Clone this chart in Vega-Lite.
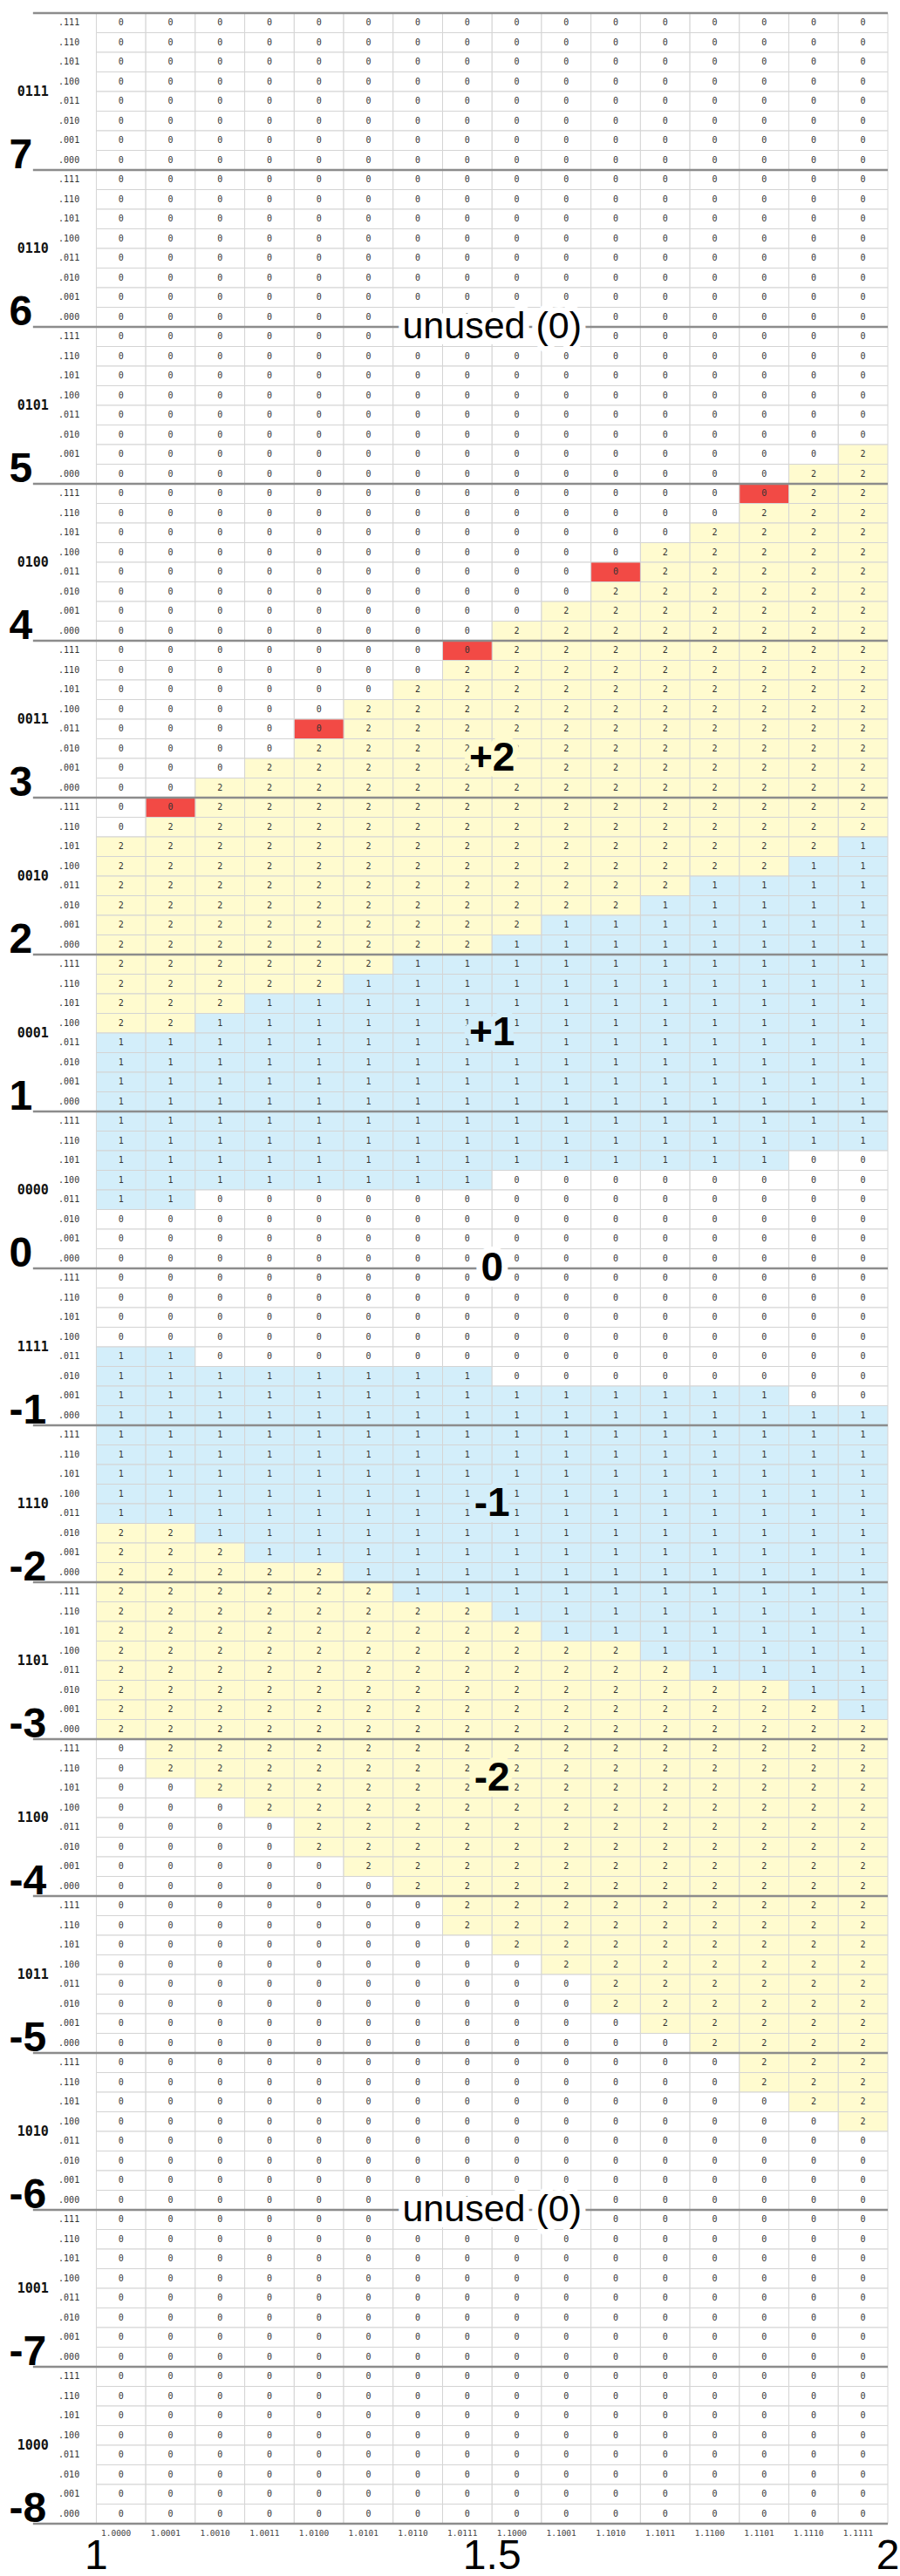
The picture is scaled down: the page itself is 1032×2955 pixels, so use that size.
{
"$schema": "https://vega.github.io/schema/vega-lite/v6.json",
"width": 1021,
"height": 2880,
"autosize": {"type": "none"},
"padding": {"left": -3, "top": 15, "right": 14, "bottom": 60},
"background": "white",
"config": {"view": {"stroke": null}},
"datasets": {
"cells": [
{"x":0,"y":0,"v":0},{"x":1,"y":0,"v":0},{"x":2,"y":0,"v":0},{"x":3,"y":0,"v":0},{"x":4,"y":0,"v":0},{"x":5,"y":0,"v":0},{"x":6,"y":0,"v":0},{"x":7,"y":0,"v":0},{"x":8,"y":0,"v":0},{"x":9,"y":0,"v":0},{"x":10,"y":0,"v":0},{"x":11,"y":0,"v":0},{"x":12,"y":0,"v":0},{"x":13,"y":0,"v":0},{"x":14,"y":0,"v":0},{"x":15,"y":0,"v":0},
{"x":0,"y":1,"v":0},{"x":1,"y":1,"v":0},{"x":2,"y":1,"v":0},{"x":3,"y":1,"v":0},{"x":4,"y":1,"v":0},{"x":5,"y":1,"v":0},{"x":6,"y":1,"v":0},{"x":7,"y":1,"v":0},{"x":8,"y":1,"v":0},{"x":9,"y":1,"v":0},{"x":10,"y":1,"v":0},{"x":11,"y":1,"v":0},{"x":12,"y":1,"v":0},{"x":13,"y":1,"v":0},{"x":14,"y":1,"v":0},{"x":15,"y":1,"v":0},
{"x":0,"y":2,"v":0},{"x":1,"y":2,"v":0},{"x":2,"y":2,"v":0},{"x":3,"y":2,"v":0},{"x":4,"y":2,"v":0},{"x":5,"y":2,"v":0},{"x":6,"y":2,"v":0},{"x":7,"y":2,"v":0},{"x":8,"y":2,"v":0},{"x":9,"y":2,"v":0},{"x":10,"y":2,"v":0},{"x":11,"y":2,"v":0},{"x":12,"y":2,"v":0},{"x":13,"y":2,"v":0},{"x":14,"y":2,"v":0},{"x":15,"y":2,"v":0},
{"x":0,"y":3,"v":0},{"x":1,"y":3,"v":0},{"x":2,"y":3,"v":0},{"x":3,"y":3,"v":0},{"x":4,"y":3,"v":0},{"x":5,"y":3,"v":0},{"x":6,"y":3,"v":0},{"x":7,"y":3,"v":0},{"x":8,"y":3,"v":0},{"x":9,"y":3,"v":0},{"x":10,"y":3,"v":0},{"x":11,"y":3,"v":0},{"x":12,"y":3,"v":0},{"x":13,"y":3,"v":0},{"x":14,"y":3,"v":0},{"x":15,"y":3,"v":0},
{"x":0,"y":4,"v":0},{"x":1,"y":4,"v":0},{"x":2,"y":4,"v":0},{"x":3,"y":4,"v":0},{"x":4,"y":4,"v":0},{"x":5,"y":4,"v":0},{"x":6,"y":4,"v":0},{"x":7,"y":4,"v":0},{"x":8,"y":4,"v":0},{"x":9,"y":4,"v":0},{"x":10,"y":4,"v":0},{"x":11,"y":4,"v":0},{"x":12,"y":4,"v":0},{"x":13,"y":4,"v":0},{"x":14,"y":4,"v":0},{"x":15,"y":4,"v":0},
{"x":0,"y":5,"v":0},{"x":1,"y":5,"v":0},{"x":2,"y":5,"v":0},{"x":3,"y":5,"v":0},{"x":4,"y":5,"v":0},{"x":5,"y":5,"v":0},{"x":6,"y":5,"v":0},{"x":7,"y":5,"v":0},{"x":8,"y":5,"v":0},{"x":9,"y":5,"v":0},{"x":10,"y":5,"v":0},{"x":11,"y":5,"v":0},{"x":12,"y":5,"v":0},{"x":13,"y":5,"v":0},{"x":14,"y":5,"v":0},{"x":15,"y":5,"v":0},
{"x":0,"y":6,"v":0},{"x":1,"y":6,"v":0},{"x":2,"y":6,"v":0},{"x":3,"y":6,"v":0},{"x":4,"y":6,"v":0},{"x":5,"y":6,"v":0},{"x":6,"y":6,"v":0},{"x":7,"y":6,"v":0},{"x":8,"y":6,"v":0},{"x":9,"y":6,"v":0},{"x":10,"y":6,"v":0},{"x":11,"y":6,"v":0},{"x":12,"y":6,"v":0},{"x":13,"y":6,"v":0},{"x":14,"y":6,"v":0},{"x":15,"y":6,"v":0},
{"x":0,"y":7,"v":0},{"x":1,"y":7,"v":0},{"x":2,"y":7,"v":0},{"x":3,"y":7,"v":0},{"x":4,"y":7,"v":0},{"x":5,"y":7,"v":0},{"x":6,"y":7,"v":0},{"x":7,"y":7,"v":0},{"x":8,"y":7,"v":0},{"x":9,"y":7,"v":0},{"x":10,"y":7,"v":0},{"x":11,"y":7,"v":0},{"x":12,"y":7,"v":0},{"x":13,"y":7,"v":0},{"x":14,"y":7,"v":0},{"x":15,"y":7,"v":0},
{"x":0,"y":8,"v":0},{"x":1,"y":8,"v":0},{"x":2,"y":8,"v":0},{"x":3,"y":8,"v":0},{"x":4,"y":8,"v":0},{"x":5,"y":8,"v":0},{"x":6,"y":8,"v":0},{"x":7,"y":8,"v":0},{"x":8,"y":8,"v":0},{"x":9,"y":8,"v":0},{"x":10,"y":8,"v":0},{"x":11,"y":8,"v":0},{"x":12,"y":8,"v":0},{"x":13,"y":8,"v":0},{"x":14,"y":8,"v":0},{"x":15,"y":8,"v":0},
{"x":0,"y":9,"v":0},{"x":1,"y":9,"v":0},{"x":2,"y":9,"v":0},{"x":3,"y":9,"v":0},{"x":4,"y":9,"v":0},{"x":5,"y":9,"v":0},{"x":6,"y":9,"v":0},{"x":7,"y":9,"v":0},{"x":8,"y":9,"v":0},{"x":9,"y":9,"v":0},{"x":10,"y":9,"v":0},{"x":11,"y":9,"v":0},{"x":12,"y":9,"v":0},{"x":13,"y":9,"v":0},{"x":14,"y":9,"v":0},{"x":15,"y":9,"v":0},
{"x":0,"y":10,"v":0},{"x":1,"y":10,"v":0},{"x":2,"y":10,"v":0},{"x":3,"y":10,"v":0},{"x":4,"y":10,"v":0},{"x":5,"y":10,"v":0},{"x":6,"y":10,"v":0},{"x":7,"y":10,"v":0},{"x":8,"y":10,"v":0},{"x":9,"y":10,"v":0},{"x":10,"y":10,"v":0},{"x":11,"y":10,"v":0},{"x":12,"y":10,"v":0},{"x":13,"y":10,"v":0},{"x":14,"y":10,"v":0},{"x":15,"y":10,"v":0},
{"x":0,"y":11,"v":0},{"x":1,"y":11,"v":0},{"x":2,"y":11,"v":0},{"x":3,"y":11,"v":0},{"x":4,"y":11,"v":0},{"x":5,"y":11,"v":0},{"x":6,"y":11,"v":0},{"x":7,"y":11,"v":0},{"x":8,"y":11,"v":0},{"x":9,"y":11,"v":0},{"x":10,"y":11,"v":0},{"x":11,"y":11,"v":0},{"x":12,"y":11,"v":0},{"x":13,"y":11,"v":0},{"x":14,"y":11,"v":0},{"x":15,"y":11,"v":0},
{"x":0,"y":12,"v":0},{"x":1,"y":12,"v":0},{"x":2,"y":12,"v":0},{"x":3,"y":12,"v":0},{"x":4,"y":12,"v":0},{"x":5,"y":12,"v":0},{"x":6,"y":12,"v":0},{"x":7,"y":12,"v":0},{"x":8,"y":12,"v":0},{"x":9,"y":12,"v":0},{"x":10,"y":12,"v":0},{"x":11,"y":12,"v":0},{"x":12,"y":12,"v":0},{"x":13,"y":12,"v":0},{"x":14,"y":12,"v":0},{"x":15,"y":12,"v":0},
{"x":0,"y":13,"v":0},{"x":1,"y":13,"v":0},{"x":2,"y":13,"v":0},{"x":3,"y":13,"v":0},{"x":4,"y":13,"v":0},{"x":5,"y":13,"v":0},{"x":6,"y":13,"v":0},{"x":7,"y":13,"v":0},{"x":8,"y":13,"v":0},{"x":9,"y":13,"v":0},{"x":10,"y":13,"v":0},{"x":11,"y":13,"v":0},{"x":12,"y":13,"v":0},{"x":13,"y":13,"v":0},{"x":14,"y":13,"v":0},{"x":15,"y":13,"v":0},
{"x":0,"y":14,"v":0},{"x":1,"y":14,"v":0},{"x":2,"y":14,"v":0},{"x":3,"y":14,"v":0},{"x":4,"y":14,"v":0},{"x":5,"y":14,"v":0},{"x":6,"y":14,"v":0},{"x":7,"y":14,"v":0},{"x":8,"y":14,"v":0},{"x":9,"y":14,"v":0},{"x":10,"y":14,"v":0},{"x":11,"y":14,"v":0},{"x":12,"y":14,"v":0},{"x":13,"y":14,"v":0},{"x":14,"y":14,"v":0},{"x":15,"y":14,"v":0},
{"x":0,"y":15,"v":0},{"x":1,"y":15,"v":0},{"x":2,"y":15,"v":0},{"x":3,"y":15,"v":0},{"x":4,"y":15,"v":0},{"x":5,"y":15,"v":0},{"x":6,"y":15,"v":0},{"x":7,"y":15,"v":0},{"x":8,"y":15,"v":0},{"x":9,"y":15,"v":0},{"x":10,"y":15,"v":0},{"x":11,"y":15,"v":0},{"x":12,"y":15,"v":0},{"x":13,"y":15,"v":0},{"x":14,"y":15,"v":0},{"x":15,"y":15,"v":0},
{"x":0,"y":16,"v":0},{"x":1,"y":16,"v":0},{"x":2,"y":16,"v":0},{"x":3,"y":16,"v":0},{"x":4,"y":16,"v":0},{"x":5,"y":16,"v":0},{"x":6,"y":16,"v":0},{"x":7,"y":16,"v":0},{"x":8,"y":16,"v":0},{"x":9,"y":16,"v":0},{"x":10,"y":16,"v":0},{"x":11,"y":16,"v":0},{"x":12,"y":16,"v":0},{"x":13,"y":16,"v":0},{"x":14,"y":16,"v":0},{"x":15,"y":16,"v":0},
{"x":0,"y":17,"v":0},{"x":1,"y":17,"v":0},{"x":2,"y":17,"v":0},{"x":3,"y":17,"v":0},{"x":4,"y":17,"v":0},{"x":5,"y":17,"v":0},{"x":6,"y":17,"v":0},{"x":7,"y":17,"v":0},{"x":8,"y":17,"v":0},{"x":9,"y":17,"v":0},{"x":10,"y":17,"v":0},{"x":11,"y":17,"v":0},{"x":12,"y":17,"v":0},{"x":13,"y":17,"v":0},{"x":14,"y":17,"v":0},{"x":15,"y":17,"v":0},
{"x":0,"y":18,"v":0},{"x":1,"y":18,"v":0},{"x":2,"y":18,"v":0},{"x":3,"y":18,"v":0},{"x":4,"y":18,"v":0},{"x":5,"y":18,"v":0},{"x":6,"y":18,"v":0},{"x":7,"y":18,"v":0},{"x":8,"y":18,"v":0},{"x":9,"y":18,"v":0},{"x":10,"y":18,"v":0},{"x":11,"y":18,"v":0},{"x":12,"y":18,"v":0},{"x":13,"y":18,"v":0},{"x":14,"y":18,"v":0},{"x":15,"y":18,"v":0},
{"x":0,"y":19,"v":0},{"x":1,"y":19,"v":0},{"x":2,"y":19,"v":0},{"x":3,"y":19,"v":0},{"x":4,"y":19,"v":0},{"x":5,"y":19,"v":0},{"x":6,"y":19,"v":0},{"x":7,"y":19,"v":0},{"x":8,"y":19,"v":0},{"x":9,"y":19,"v":0},{"x":10,"y":19,"v":0},{"x":11,"y":19,"v":0},{"x":12,"y":19,"v":0},{"x":13,"y":19,"v":0},{"x":14,"y":19,"v":0},{"x":15,"y":19,"v":0},
{"x":0,"y":20,"v":0},{"x":1,"y":20,"v":0},{"x":2,"y":20,"v":0},{"x":3,"y":20,"v":0},{"x":4,"y":20,"v":0},{"x":5,"y":20,"v":0},{"x":6,"y":20,"v":0},{"x":7,"y":20,"v":0},{"x":8,"y":20,"v":0},{"x":9,"y":20,"v":0},{"x":10,"y":20,"v":0},{"x":11,"y":20,"v":0},{"x":12,"y":20,"v":0},{"x":13,"y":20,"v":0},{"x":14,"y":20,"v":0},{"x":15,"y":20,"v":0},
{"x":0,"y":21,"v":0},{"x":1,"y":21,"v":0},{"x":2,"y":21,"v":0},{"x":3,"y":21,"v":0},{"x":4,"y":21,"v":0},{"x":5,"y":21,"v":0},{"x":6,"y":21,"v":0},{"x":7,"y":21,"v":0},{"x":8,"y":21,"v":0},{"x":9,"y":21,"v":0},{"x":10,"y":21,"v":0},{"x":11,"y":21,"v":0},{"x":12,"y":21,"v":0},{"x":13,"y":21,"v":0},{"x":14,"y":21,"v":0},{"x":15,"y":21,"v":0},
{"x":0,"y":22,"v":0},{"x":1,"y":22,"v":0},{"x":2,"y":22,"v":0},{"x":3,"y":22,"v":0},{"x":4,"y":22,"v":0},{"x":5,"y":22,"v":0},{"x":6,"y":22,"v":0},{"x":7,"y":22,"v":0},{"x":8,"y":22,"v":0},{"x":9,"y":22,"v":0},{"x":10,"y":22,"v":0},{"x":11,"y":22,"v":0},{"x":12,"y":22,"v":0},{"x":13,"y":22,"v":0},{"x":14,"y":22,"v":0},{"x":15,"y":22,"v":2},
{"x":0,"y":23,"v":0},{"x":1,"y":23,"v":0},{"x":2,"y":23,"v":0},{"x":3,"y":23,"v":0},{"x":4,"y":23,"v":0},{"x":5,"y":23,"v":0},{"x":6,"y":23,"v":0},{"x":7,"y":23,"v":0},{"x":8,"y":23,"v":0},{"x":9,"y":23,"v":0},{"x":10,"y":23,"v":0},{"x":11,"y":23,"v":0},{"x":12,"y":23,"v":0},{"x":13,"y":23,"v":0},{"x":14,"y":23,"v":2},{"x":15,"y":23,"v":2},
{"x":0,"y":24,"v":0},{"x":1,"y":24,"v":0},{"x":2,"y":24,"v":0},{"x":3,"y":24,"v":0},{"x":4,"y":24,"v":0},{"x":5,"y":24,"v":0},{"x":6,"y":24,"v":0},{"x":7,"y":24,"v":0},{"x":8,"y":24,"v":0},{"x":9,"y":24,"v":0},{"x":10,"y":24,"v":0},{"x":11,"y":24,"v":0},{"x":12,"y":24,"v":0},{"x":13,"y":24,"v":0},{"x":14,"y":24,"v":2},{"x":15,"y":24,"v":2},
{"x":0,"y":25,"v":0},{"x":1,"y":25,"v":0},{"x":2,"y":25,"v":0},{"x":3,"y":25,"v":0},{"x":4,"y":25,"v":0},{"x":5,"y":25,"v":0},{"x":6,"y":25,"v":0},{"x":7,"y":25,"v":0},{"x":8,"y":25,"v":0},{"x":9,"y":25,"v":0},{"x":10,"y":25,"v":0},{"x":11,"y":25,"v":0},{"x":12,"y":25,"v":0},{"x":13,"y":25,"v":2},{"x":14,"y":25,"v":2},{"x":15,"y":25,"v":2},
{"x":0,"y":26,"v":0},{"x":1,"y":26,"v":0},{"x":2,"y":26,"v":0},{"x":3,"y":26,"v":0},{"x":4,"y":26,"v":0},{"x":5,"y":26,"v":0},{"x":6,"y":26,"v":0},{"x":7,"y":26,"v":0},{"x":8,"y":26,"v":0},{"x":9,"y":26,"v":0},{"x":10,"y":26,"v":0},{"x":11,"y":26,"v":0},{"x":12,"y":26,"v":2},{"x":13,"y":26,"v":2},{"x":14,"y":26,"v":2},{"x":15,"y":26,"v":2},
{"x":0,"y":27,"v":0},{"x":1,"y":27,"v":0},{"x":2,"y":27,"v":0},{"x":3,"y":27,"v":0},{"x":4,"y":27,"v":0},{"x":5,"y":27,"v":0},{"x":6,"y":27,"v":0},{"x":7,"y":27,"v":0},{"x":8,"y":27,"v":0},{"x":9,"y":27,"v":0},{"x":10,"y":27,"v":0},{"x":11,"y":27,"v":2},{"x":12,"y":27,"v":2},{"x":13,"y":27,"v":2},{"x":14,"y":27,"v":2},{"x":15,"y":27,"v":2},
{"x":0,"y":28,"v":0},{"x":1,"y":28,"v":0},{"x":2,"y":28,"v":0},{"x":3,"y":28,"v":0},{"x":4,"y":28,"v":0},{"x":5,"y":28,"v":0},{"x":6,"y":28,"v":0},{"x":7,"y":28,"v":0},{"x":8,"y":28,"v":0},{"x":9,"y":28,"v":0},{"x":10,"y":28,"v":0},{"x":11,"y":28,"v":2},{"x":12,"y":28,"v":2},{"x":13,"y":28,"v":2},{"x":14,"y":28,"v":2},{"x":15,"y":28,"v":2},
{"x":0,"y":29,"v":0},{"x":1,"y":29,"v":0},{"x":2,"y":29,"v":0},{"x":3,"y":29,"v":0},{"x":4,"y":29,"v":0},{"x":5,"y":29,"v":0},{"x":6,"y":29,"v":0},{"x":7,"y":29,"v":0},{"x":8,"y":29,"v":0},{"x":9,"y":29,"v":0},{"x":10,"y":29,"v":2},{"x":11,"y":29,"v":2},{"x":12,"y":29,"v":2},{"x":13,"y":29,"v":2},{"x":14,"y":29,"v":2},{"x":15,"y":29,"v":2},
{"x":0,"y":30,"v":0},{"x":1,"y":30,"v":0},{"x":2,"y":30,"v":0},{"x":3,"y":30,"v":0},{"x":4,"y":30,"v":0},{"x":5,"y":30,"v":0},{"x":6,"y":30,"v":0},{"x":7,"y":30,"v":0},{"x":8,"y":30,"v":0},{"x":9,"y":30,"v":2},{"x":10,"y":30,"v":2},{"x":11,"y":30,"v":2},{"x":12,"y":30,"v":2},{"x":13,"y":30,"v":2},{"x":14,"y":30,"v":2},{"x":15,"y":30,"v":2},
{"x":0,"y":31,"v":0},{"x":1,"y":31,"v":0},{"x":2,"y":31,"v":0},{"x":3,"y":31,"v":0},{"x":4,"y":31,"v":0},{"x":5,"y":31,"v":0},{"x":6,"y":31,"v":0},{"x":7,"y":31,"v":0},{"x":8,"y":31,"v":2},{"x":9,"y":31,"v":2},{"x":10,"y":31,"v":2},{"x":11,"y":31,"v":2},{"x":12,"y":31,"v":2},{"x":13,"y":31,"v":2},{"x":14,"y":31,"v":2},{"x":15,"y":31,"v":2},
{"x":0,"y":32,"v":0},{"x":1,"y":32,"v":0},{"x":2,"y":32,"v":0},{"x":3,"y":32,"v":0},{"x":4,"y":32,"v":0},{"x":5,"y":32,"v":0},{"x":6,"y":32,"v":0},{"x":7,"y":32,"v":0},{"x":8,"y":32,"v":2},{"x":9,"y":32,"v":2},{"x":10,"y":32,"v":2},{"x":11,"y":32,"v":2},{"x":12,"y":32,"v":2},{"x":13,"y":32,"v":2},{"x":14,"y":32,"v":2},{"x":15,"y":32,"v":2},
{"x":0,"y":33,"v":0},{"x":1,"y":33,"v":0},{"x":2,"y":33,"v":0},{"x":3,"y":33,"v":0},{"x":4,"y":33,"v":0},{"x":5,"y":33,"v":0},{"x":6,"y":33,"v":0},{"x":7,"y":33,"v":2},{"x":8,"y":33,"v":2},{"x":9,"y":33,"v":2},{"x":10,"y":33,"v":2},{"x":11,"y":33,"v":2},{"x":12,"y":33,"v":2},{"x":13,"y":33,"v":2},{"x":14,"y":33,"v":2},{"x":15,"y":33,"v":2},
{"x":0,"y":34,"v":0},{"x":1,"y":34,"v":0},{"x":2,"y":34,"v":0},{"x":3,"y":34,"v":0},{"x":4,"y":34,"v":0},{"x":5,"y":34,"v":0},{"x":6,"y":34,"v":2},{"x":7,"y":34,"v":2},{"x":8,"y":34,"v":2},{"x":9,"y":34,"v":2},{"x":10,"y":34,"v":2},{"x":11,"y":34,"v":2},{"x":12,"y":34,"v":2},{"x":13,"y":34,"v":2},{"x":14,"y":34,"v":2},{"x":15,"y":34,"v":2},
{"x":0,"y":35,"v":0},{"x":1,"y":35,"v":0},{"x":2,"y":35,"v":0},{"x":3,"y":35,"v":0},{"x":4,"y":35,"v":0},{"x":5,"y":35,"v":2},{"x":6,"y":35,"v":2},{"x":7,"y":35,"v":2},{"x":8,"y":35,"v":2},{"x":9,"y":35,"v":2},{"x":10,"y":35,"v":2},{"x":11,"y":35,"v":2},{"x":12,"y":35,"v":2},{"x":13,"y":35,"v":2},{"x":14,"y":35,"v":2},{"x":15,"y":35,"v":2},
{"x":0,"y":36,"v":0},{"x":1,"y":36,"v":0},{"x":2,"y":36,"v":0},{"x":3,"y":36,"v":0},{"x":4,"y":36,"v":0},{"x":5,"y":36,"v":2},{"x":6,"y":36,"v":2},{"x":7,"y":36,"v":2},{"x":8,"y":36,"v":2},{"x":9,"y":36,"v":2},{"x":10,"y":36,"v":2},{"x":11,"y":36,"v":2},{"x":12,"y":36,"v":2},{"x":13,"y":36,"v":2},{"x":14,"y":36,"v":2},{"x":15,"y":36,"v":2},
{"x":0,"y":37,"v":0},{"x":1,"y":37,"v":0},{"x":2,"y":37,"v":0},{"x":3,"y":37,"v":0},{"x":4,"y":37,"v":2},{"x":5,"y":37,"v":2},{"x":6,"y":37,"v":2},{"x":7,"y":37,"v":2},{"x":8,"y":37,"v":2},{"x":9,"y":37,"v":2},{"x":10,"y":37,"v":2},{"x":11,"y":37,"v":2},{"x":12,"y":37,"v":2},{"x":13,"y":37,"v":2},{"x":14,"y":37,"v":2},{"x":15,"y":37,"v":2},
{"x":0,"y":38,"v":0},{"x":1,"y":38,"v":0},{"x":2,"y":38,"v":0},{"x":3,"y":38,"v":2},{"x":4,"y":38,"v":2},{"x":5,"y":38,"v":2},{"x":6,"y":38,"v":2},{"x":7,"y":38,"v":2},{"x":8,"y":38,"v":2},{"x":9,"y":38,"v":2},{"x":10,"y":38,"v":2},{"x":11,"y":38,"v":2},{"x":12,"y":38,"v":2},{"x":13,"y":38,"v":2},{"x":14,"y":38,"v":2},{"x":15,"y":38,"v":2},
{"x":0,"y":39,"v":0},{"x":1,"y":39,"v":0},{"x":2,"y":39,"v":2},{"x":3,"y":39,"v":2},{"x":4,"y":39,"v":2},{"x":5,"y":39,"v":2},{"x":6,"y":39,"v":2},{"x":7,"y":39,"v":2},{"x":8,"y":39,"v":2},{"x":9,"y":39,"v":2},{"x":10,"y":39,"v":2},{"x":11,"y":39,"v":2},{"x":12,"y":39,"v":2},{"x":13,"y":39,"v":2},{"x":14,"y":39,"v":2},{"x":15,"y":39,"v":2},
{"x":0,"y":40,"v":0},{"x":1,"y":40,"v":0},{"x":2,"y":40,"v":2},{"x":3,"y":40,"v":2},{"x":4,"y":40,"v":2},{"x":5,"y":40,"v":2},{"x":6,"y":40,"v":2},{"x":7,"y":40,"v":2},{"x":8,"y":40,"v":2},{"x":9,"y":40,"v":2},{"x":10,"y":40,"v":2},{"x":11,"y":40,"v":2},{"x":12,"y":40,"v":2},{"x":13,"y":40,"v":2},{"x":14,"y":40,"v":2},{"x":15,"y":40,"v":2},
{"x":0,"y":41,"v":0},{"x":1,"y":41,"v":2},{"x":2,"y":41,"v":2},{"x":3,"y":41,"v":2},{"x":4,"y":41,"v":2},{"x":5,"y":41,"v":2},{"x":6,"y":41,"v":2},{"x":7,"y":41,"v":2},{"x":8,"y":41,"v":2},{"x":9,"y":41,"v":2},{"x":10,"y":41,"v":2},{"x":11,"y":41,"v":2},{"x":12,"y":41,"v":2},{"x":13,"y":41,"v":2},{"x":14,"y":41,"v":2},{"x":15,"y":41,"v":2},
{"x":0,"y":42,"v":2},{"x":1,"y":42,"v":2},{"x":2,"y":42,"v":2},{"x":3,"y":42,"v":2},{"x":4,"y":42,"v":2},{"x":5,"y":42,"v":2},{"x":6,"y":42,"v":2},{"x":7,"y":42,"v":2},{"x":8,"y":42,"v":2},{"x":9,"y":42,"v":2},{"x":10,"y":42,"v":2},{"x":11,"y":42,"v":2},{"x":12,"y":42,"v":2},{"x":13,"y":42,"v":2},{"x":14,"y":42,"v":2},{"x":15,"y":42,"v":1},
{"x":0,"y":43,"v":2},{"x":1,"y":43,"v":2},{"x":2,"y":43,"v":2},{"x":3,"y":43,"v":2},{"x":4,"y":43,"v":2},{"x":5,"y":43,"v":2},{"x":6,"y":43,"v":2},{"x":7,"y":43,"v":2},{"x":8,"y":43,"v":2},{"x":9,"y":43,"v":2},{"x":10,"y":43,"v":2},{"x":11,"y":43,"v":2},{"x":12,"y":43,"v":2},{"x":13,"y":43,"v":2},{"x":14,"y":43,"v":1},{"x":15,"y":43,"v":1},
{"x":0,"y":44,"v":2},{"x":1,"y":44,"v":2},{"x":2,"y":44,"v":2},{"x":3,"y":44,"v":2},{"x":4,"y":44,"v":2},{"x":5,"y":44,"v":2},{"x":6,"y":44,"v":2},{"x":7,"y":44,"v":2},{"x":8,"y":44,"v":2},{"x":9,"y":44,"v":2},{"x":10,"y":44,"v":2},{"x":11,"y":44,"v":2},{"x":12,"y":44,"v":1},{"x":13,"y":44,"v":1},{"x":14,"y":44,"v":1},{"x":15,"y":44,"v":1},
{"x":0,"y":45,"v":2},{"x":1,"y":45,"v":2},{"x":2,"y":45,"v":2},{"x":3,"y":45,"v":2},{"x":4,"y":45,"v":2},{"x":5,"y":45,"v":2},{"x":6,"y":45,"v":2},{"x":7,"y":45,"v":2},{"x":8,"y":45,"v":2},{"x":9,"y":45,"v":2},{"x":10,"y":45,"v":2},{"x":11,"y":45,"v":1},{"x":12,"y":45,"v":1},{"x":13,"y":45,"v":1},{"x":14,"y":45,"v":1},{"x":15,"y":45,"v":1},
{"x":0,"y":46,"v":2},{"x":1,"y":46,"v":2},{"x":2,"y":46,"v":2},{"x":3,"y":46,"v":2},{"x":4,"y":46,"v":2},{"x":5,"y":46,"v":2},{"x":6,"y":46,"v":2},{"x":7,"y":46,"v":2},{"x":8,"y":46,"v":2},{"x":9,"y":46,"v":1},{"x":10,"y":46,"v":1},{"x":11,"y":46,"v":1},{"x":12,"y":46,"v":1},{"x":13,"y":46,"v":1},{"x":14,"y":46,"v":1},{"x":15,"y":46,"v":1},
{"x":0,"y":47,"v":2},{"x":1,"y":47,"v":2},{"x":2,"y":47,"v":2},{"x":3,"y":47,"v":2},{"x":4,"y":47,"v":2},{"x":5,"y":47,"v":2},{"x":6,"y":47,"v":2},{"x":7,"y":47,"v":2},{"x":8,"y":47,"v":1},{"x":9,"y":47,"v":1},{"x":10,"y":47,"v":1},{"x":11,"y":47,"v":1},{"x":12,"y":47,"v":1},{"x":13,"y":47,"v":1},{"x":14,"y":47,"v":1},{"x":15,"y":47,"v":1},
{"x":0,"y":48,"v":2},{"x":1,"y":48,"v":2},{"x":2,"y":48,"v":2},{"x":3,"y":48,"v":2},{"x":4,"y":48,"v":2},{"x":5,"y":48,"v":2},{"x":6,"y":48,"v":1},{"x":7,"y":48,"v":1},{"x":8,"y":48,"v":1},{"x":9,"y":48,"v":1},{"x":10,"y":48,"v":1},{"x":11,"y":48,"v":1},{"x":12,"y":48,"v":1},{"x":13,"y":48,"v":1},{"x":14,"y":48,"v":1},{"x":15,"y":48,"v":1},
{"x":0,"y":49,"v":2},{"x":1,"y":49,"v":2},{"x":2,"y":49,"v":2},{"x":3,"y":49,"v":2},{"x":4,"y":49,"v":2},{"x":5,"y":49,"v":1},{"x":6,"y":49,"v":1},{"x":7,"y":49,"v":1},{"x":8,"y":49,"v":1},{"x":9,"y":49,"v":1},{"x":10,"y":49,"v":1},{"x":11,"y":49,"v":1},{"x":12,"y":49,"v":1},{"x":13,"y":49,"v":1},{"x":14,"y":49,"v":1},{"x":15,"y":49,"v":1},
{"x":0,"y":50,"v":2},{"x":1,"y":50,"v":2},{"x":2,"y":50,"v":2},{"x":3,"y":50,"v":1},{"x":4,"y":50,"v":1},{"x":5,"y":50,"v":1},{"x":6,"y":50,"v":1},{"x":7,"y":50,"v":1},{"x":8,"y":50,"v":1},{"x":9,"y":50,"v":1},{"x":10,"y":50,"v":1},{"x":11,"y":50,"v":1},{"x":12,"y":50,"v":1},{"x":13,"y":50,"v":1},{"x":14,"y":50,"v":1},{"x":15,"y":50,"v":1},
{"x":0,"y":51,"v":2},{"x":1,"y":51,"v":2},{"x":2,"y":51,"v":1},{"x":3,"y":51,"v":1},{"x":4,"y":51,"v":1},{"x":5,"y":51,"v":1},{"x":6,"y":51,"v":1},{"x":7,"y":51,"v":1},{"x":8,"y":51,"v":1},{"x":9,"y":51,"v":1},{"x":10,"y":51,"v":1},{"x":11,"y":51,"v":1},{"x":12,"y":51,"v":1},{"x":13,"y":51,"v":1},{"x":14,"y":51,"v":1},{"x":15,"y":51,"v":1},
{"x":0,"y":52,"v":1},{"x":1,"y":52,"v":1},{"x":2,"y":52,"v":1},{"x":3,"y":52,"v":1},{"x":4,"y":52,"v":1},{"x":5,"y":52,"v":1},{"x":6,"y":52,"v":1},{"x":7,"y":52,"v":1},{"x":8,"y":52,"v":1},{"x":9,"y":52,"v":1},{"x":10,"y":52,"v":1},{"x":11,"y":52,"v":1},{"x":12,"y":52,"v":1},{"x":13,"y":52,"v":1},{"x":14,"y":52,"v":1},{"x":15,"y":52,"v":1},
{"x":0,"y":53,"v":1},{"x":1,"y":53,"v":1},{"x":2,"y":53,"v":1},{"x":3,"y":53,"v":1},{"x":4,"y":53,"v":1},{"x":5,"y":53,"v":1},{"x":6,"y":53,"v":1},{"x":7,"y":53,"v":1},{"x":8,"y":53,"v":1},{"x":9,"y":53,"v":1},{"x":10,"y":53,"v":1},{"x":11,"y":53,"v":1},{"x":12,"y":53,"v":1},{"x":13,"y":53,"v":1},{"x":14,"y":53,"v":1},{"x":15,"y":53,"v":1},
{"x":0,"y":54,"v":1},{"x":1,"y":54,"v":1},{"x":2,"y":54,"v":1},{"x":3,"y":54,"v":1},{"x":4,"y":54,"v":1},{"x":5,"y":54,"v":1},{"x":6,"y":54,"v":1},{"x":7,"y":54,"v":1},{"x":8,"y":54,"v":1},{"x":9,"y":54,"v":1},{"x":10,"y":54,"v":1},{"x":11,"y":54,"v":1},{"x":12,"y":54,"v":1},{"x":13,"y":54,"v":1},{"x":14,"y":54,"v":1},{"x":15,"y":54,"v":1},
{"x":0,"y":55,"v":1},{"x":1,"y":55,"v":1},{"x":2,"y":55,"v":1},{"x":3,"y":55,"v":1},{"x":4,"y":55,"v":1},{"x":5,"y":55,"v":1},{"x":6,"y":55,"v":1},{"x":7,"y":55,"v":1},{"x":8,"y":55,"v":1},{"x":9,"y":55,"v":1},{"x":10,"y":55,"v":1},{"x":11,"y":55,"v":1},{"x":12,"y":55,"v":1},{"x":13,"y":55,"v":1},{"x":14,"y":55,"v":1},{"x":15,"y":55,"v":1},
{"x":0,"y":56,"v":1},{"x":1,"y":56,"v":1},{"x":2,"y":56,"v":1},{"x":3,"y":56,"v":1},{"x":4,"y":56,"v":1},{"x":5,"y":56,"v":1},{"x":6,"y":56,"v":1},{"x":7,"y":56,"v":1},{"x":8,"y":56,"v":1},{"x":9,"y":56,"v":1},{"x":10,"y":56,"v":1},{"x":11,"y":56,"v":1},{"x":12,"y":56,"v":1},{"x":13,"y":56,"v":1},{"x":14,"y":56,"v":1},{"x":15,"y":56,"v":1},
{"x":0,"y":57,"v":1},{"x":1,"y":57,"v":1},{"x":2,"y":57,"v":1},{"x":3,"y":57,"v":1},{"x":4,"y":57,"v":1},{"x":5,"y":57,"v":1},{"x":6,"y":57,"v":1},{"x":7,"y":57,"v":1},{"x":8,"y":57,"v":1},{"x":9,"y":57,"v":1},{"x":10,"y":57,"v":1},{"x":11,"y":57,"v":1},{"x":12,"y":57,"v":1},{"x":13,"y":57,"v":1},{"x":14,"y":57,"v":1},{"x":15,"y":57,"v":1},
{"x":0,"y":58,"v":1},{"x":1,"y":58,"v":1},{"x":2,"y":58,"v":1},{"x":3,"y":58,"v":1},{"x":4,"y":58,"v":1},{"x":5,"y":58,"v":1},{"x":6,"y":58,"v":1},{"x":7,"y":58,"v":1},{"x":8,"y":58,"v":1},{"x":9,"y":58,"v":1},{"x":10,"y":58,"v":1},{"x":11,"y":58,"v":1},{"x":12,"y":58,"v":1},{"x":13,"y":58,"v":1},{"x":14,"y":58,"v":0},{"x":15,"y":58,"v":0},
{"x":0,"y":59,"v":1},{"x":1,"y":59,"v":1},{"x":2,"y":59,"v":1},{"x":3,"y":59,"v":1},{"x":4,"y":59,"v":1},{"x":5,"y":59,"v":1},{"x":6,"y":59,"v":1},{"x":7,"y":59,"v":1},{"x":8,"y":59,"v":0},{"x":9,"y":59,"v":0},{"x":10,"y":59,"v":0},{"x":11,"y":59,"v":0},{"x":12,"y":59,"v":0},{"x":13,"y":59,"v":0},{"x":14,"y":59,"v":0},{"x":15,"y":59,"v":0},
{"x":0,"y":60,"v":1},{"x":1,"y":60,"v":1},{"x":2,"y":60,"v":0},{"x":3,"y":60,"v":0},{"x":4,"y":60,"v":0},{"x":5,"y":60,"v":0},{"x":6,"y":60,"v":0},{"x":7,"y":60,"v":0},{"x":8,"y":60,"v":0},{"x":9,"y":60,"v":0},{"x":10,"y":60,"v":0},{"x":11,"y":60,"v":0},{"x":12,"y":60,"v":0},{"x":13,"y":60,"v":0},{"x":14,"y":60,"v":0},{"x":15,"y":60,"v":0},
{"x":0,"y":61,"v":0},{"x":1,"y":61,"v":0},{"x":2,"y":61,"v":0},{"x":3,"y":61,"v":0},{"x":4,"y":61,"v":0},{"x":5,"y":61,"v":0},{"x":6,"y":61,"v":0},{"x":7,"y":61,"v":0},{"x":8,"y":61,"v":0},{"x":9,"y":61,"v":0},{"x":10,"y":61,"v":0},{"x":11,"y":61,"v":0},{"x":12,"y":61,"v":0},{"x":13,"y":61,"v":0},{"x":14,"y":61,"v":0},{"x":15,"y":61,"v":0},
{"x":0,"y":62,"v":0},{"x":1,"y":62,"v":0},{"x":2,"y":62,"v":0},{"x":3,"y":62,"v":0},{"x":4,"y":62,"v":0},{"x":5,"y":62,"v":0},{"x":6,"y":62,"v":0},{"x":7,"y":62,"v":0},{"x":8,"y":62,"v":0},{"x":9,"y":62,"v":0},{"x":10,"y":62,"v":0},{"x":11,"y":62,"v":0},{"x":12,"y":62,"v":0},{"x":13,"y":62,"v":0},{"x":14,"y":62,"v":0},{"x":15,"y":62,"v":0},
{"x":0,"y":63,"v":0},{"x":1,"y":63,"v":0},{"x":2,"y":63,"v":0},{"x":3,"y":63,"v":0},{"x":4,"y":63,"v":0},{"x":5,"y":63,"v":0},{"x":6,"y":63,"v":0},{"x":7,"y":63,"v":0},{"x":8,"y":63,"v":0},{"x":9,"y":63,"v":0},{"x":10,"y":63,"v":0},{"x":11,"y":63,"v":0},{"x":12,"y":63,"v":0},{"x":13,"y":63,"v":0},{"x":14,"y":63,"v":0},{"x":15,"y":63,"v":0},
{"x":0,"y":64,"v":0},{"x":1,"y":64,"v":0},{"x":2,"y":64,"v":0},{"x":3,"y":64,"v":0},{"x":4,"y":64,"v":0},{"x":5,"y":64,"v":0},{"x":6,"y":64,"v":0},{"x":7,"y":64,"v":0},{"x":8,"y":64,"v":0},{"x":9,"y":64,"v":0},{"x":10,"y":64,"v":0},{"x":11,"y":64,"v":0},{"x":12,"y":64,"v":0},{"x":13,"y":64,"v":0},{"x":14,"y":64,"v":0},{"x":15,"y":64,"v":0},
{"x":0,"y":65,"v":0},{"x":1,"y":65,"v":0},{"x":2,"y":65,"v":0},{"x":3,"y":65,"v":0},{"x":4,"y":65,"v":0},{"x":5,"y":65,"v":0},{"x":6,"y":65,"v":0},{"x":7,"y":65,"v":0},{"x":8,"y":65,"v":0},{"x":9,"y":65,"v":0},{"x":10,"y":65,"v":0},{"x":11,"y":65,"v":0},{"x":12,"y":65,"v":0},{"x":13,"y":65,"v":0},{"x":14,"y":65,"v":0},{"x":15,"y":65,"v":0},
{"x":0,"y":66,"v":0},{"x":1,"y":66,"v":0},{"x":2,"y":66,"v":0},{"x":3,"y":66,"v":0},{"x":4,"y":66,"v":0},{"x":5,"y":66,"v":0},{"x":6,"y":66,"v":0},{"x":7,"y":66,"v":0},{"x":8,"y":66,"v":0},{"x":9,"y":66,"v":0},{"x":10,"y":66,"v":0},{"x":11,"y":66,"v":0},{"x":12,"y":66,"v":0},{"x":13,"y":66,"v":0},{"x":14,"y":66,"v":0},{"x":15,"y":66,"v":0},
{"x":0,"y":67,"v":0},{"x":1,"y":67,"v":0},{"x":2,"y":67,"v":0},{"x":3,"y":67,"v":0},{"x":4,"y":67,"v":0},{"x":5,"y":67,"v":0},{"x":6,"y":67,"v":0},{"x":7,"y":67,"v":0},{"x":8,"y":67,"v":0},{"x":9,"y":67,"v":0},{"x":10,"y":67,"v":0},{"x":11,"y":67,"v":0},{"x":12,"y":67,"v":0},{"x":13,"y":67,"v":0},{"x":14,"y":67,"v":0},{"x":15,"y":67,"v":0},
{"x":0,"y":68,"v":1},{"x":1,"y":68,"v":1},{"x":2,"y":68,"v":0},{"x":3,"y":68,"v":0},{"x":4,"y":68,"v":0},{"x":5,"y":68,"v":0},{"x":6,"y":68,"v":0},{"x":7,"y":68,"v":0},{"x":8,"y":68,"v":0},{"x":9,"y":68,"v":0},{"x":10,"y":68,"v":0},{"x":11,"y":68,"v":0},{"x":12,"y":68,"v":0},{"x":13,"y":68,"v":0},{"x":14,"y":68,"v":0},{"x":15,"y":68,"v":0},
{"x":0,"y":69,"v":1},{"x":1,"y":69,"v":1},{"x":2,"y":69,"v":1},{"x":3,"y":69,"v":1},{"x":4,"y":69,"v":1},{"x":5,"y":69,"v":1},{"x":6,"y":69,"v":1},{"x":7,"y":69,"v":1},{"x":8,"y":69,"v":0},{"x":9,"y":69,"v":0},{"x":10,"y":69,"v":0},{"x":11,"y":69,"v":0},{"x":12,"y":69,"v":0},{"x":13,"y":69,"v":0},{"x":14,"y":69,"v":0},{"x":15,"y":69,"v":0},
{"x":0,"y":70,"v":1},{"x":1,"y":70,"v":1},{"x":2,"y":70,"v":1},{"x":3,"y":70,"v":1},{"x":4,"y":70,"v":1},{"x":5,"y":70,"v":1},{"x":6,"y":70,"v":1},{"x":7,"y":70,"v":1},{"x":8,"y":70,"v":1},{"x":9,"y":70,"v":1},{"x":10,"y":70,"v":1},{"x":11,"y":70,"v":1},{"x":12,"y":70,"v":1},{"x":13,"y":70,"v":1},{"x":14,"y":70,"v":0},{"x":15,"y":70,"v":0},
{"x":0,"y":71,"v":1},{"x":1,"y":71,"v":1},{"x":2,"y":71,"v":1},{"x":3,"y":71,"v":1},{"x":4,"y":71,"v":1},{"x":5,"y":71,"v":1},{"x":6,"y":71,"v":1},{"x":7,"y":71,"v":1},{"x":8,"y":71,"v":1},{"x":9,"y":71,"v":1},{"x":10,"y":71,"v":1},{"x":11,"y":71,"v":1},{"x":12,"y":71,"v":1},{"x":13,"y":71,"v":1},{"x":14,"y":71,"v":1},{"x":15,"y":71,"v":1},
{"x":0,"y":72,"v":1},{"x":1,"y":72,"v":1},{"x":2,"y":72,"v":1},{"x":3,"y":72,"v":1},{"x":4,"y":72,"v":1},{"x":5,"y":72,"v":1},{"x":6,"y":72,"v":1},{"x":7,"y":72,"v":1},{"x":8,"y":72,"v":1},{"x":9,"y":72,"v":1},{"x":10,"y":72,"v":1},{"x":11,"y":72,"v":1},{"x":12,"y":72,"v":1},{"x":13,"y":72,"v":1},{"x":14,"y":72,"v":1},{"x":15,"y":72,"v":1},
{"x":0,"y":73,"v":1},{"x":1,"y":73,"v":1},{"x":2,"y":73,"v":1},{"x":3,"y":73,"v":1},{"x":4,"y":73,"v":1},{"x":5,"y":73,"v":1},{"x":6,"y":73,"v":1},{"x":7,"y":73,"v":1},{"x":8,"y":73,"v":1},{"x":9,"y":73,"v":1},{"x":10,"y":73,"v":1},{"x":11,"y":73,"v":1},{"x":12,"y":73,"v":1},{"x":13,"y":73,"v":1},{"x":14,"y":73,"v":1},{"x":15,"y":73,"v":1},
{"x":0,"y":74,"v":1},{"x":1,"y":74,"v":1},{"x":2,"y":74,"v":1},{"x":3,"y":74,"v":1},{"x":4,"y":74,"v":1},{"x":5,"y":74,"v":1},{"x":6,"y":74,"v":1},{"x":7,"y":74,"v":1},{"x":8,"y":74,"v":1},{"x":9,"y":74,"v":1},{"x":10,"y":74,"v":1},{"x":11,"y":74,"v":1},{"x":12,"y":74,"v":1},{"x":13,"y":74,"v":1},{"x":14,"y":74,"v":1},{"x":15,"y":74,"v":1},
{"x":0,"y":75,"v":1},{"x":1,"y":75,"v":1},{"x":2,"y":75,"v":1},{"x":3,"y":75,"v":1},{"x":4,"y":75,"v":1},{"x":5,"y":75,"v":1},{"x":6,"y":75,"v":1},{"x":7,"y":75,"v":1},{"x":8,"y":75,"v":1},{"x":9,"y":75,"v":1},{"x":10,"y":75,"v":1},{"x":11,"y":75,"v":1},{"x":12,"y":75,"v":1},{"x":13,"y":75,"v":1},{"x":14,"y":75,"v":1},{"x":15,"y":75,"v":1},
{"x":0,"y":76,"v":1},{"x":1,"y":76,"v":1},{"x":2,"y":76,"v":1},{"x":3,"y":76,"v":1},{"x":4,"y":76,"v":1},{"x":5,"y":76,"v":1},{"x":6,"y":76,"v":1},{"x":7,"y":76,"v":1},{"x":8,"y":76,"v":1},{"x":9,"y":76,"v":1},{"x":10,"y":76,"v":1},{"x":11,"y":76,"v":1},{"x":12,"y":76,"v":1},{"x":13,"y":76,"v":1},{"x":14,"y":76,"v":1},{"x":15,"y":76,"v":1},
{"x":0,"y":77,"v":2},{"x":1,"y":77,"v":2},{"x":2,"y":77,"v":1},{"x":3,"y":77,"v":1},{"x":4,"y":77,"v":1},{"x":5,"y":77,"v":1},{"x":6,"y":77,"v":1},{"x":7,"y":77,"v":1},{"x":8,"y":77,"v":1},{"x":9,"y":77,"v":1},{"x":10,"y":77,"v":1},{"x":11,"y":77,"v":1},{"x":12,"y":77,"v":1},{"x":13,"y":77,"v":1},{"x":14,"y":77,"v":1},{"x":15,"y":77,"v":1},
{"x":0,"y":78,"v":2},{"x":1,"y":78,"v":2},{"x":2,"y":78,"v":2},{"x":3,"y":78,"v":1},{"x":4,"y":78,"v":1},{"x":5,"y":78,"v":1},{"x":6,"y":78,"v":1},{"x":7,"y":78,"v":1},{"x":8,"y":78,"v":1},{"x":9,"y":78,"v":1},{"x":10,"y":78,"v":1},{"x":11,"y":78,"v":1},{"x":12,"y":78,"v":1},{"x":13,"y":78,"v":1},{"x":14,"y":78,"v":1},{"x":15,"y":78,"v":1},
{"x":0,"y":79,"v":2},{"x":1,"y":79,"v":2},{"x":2,"y":79,"v":2},{"x":3,"y":79,"v":2},{"x":4,"y":79,"v":2},{"x":5,"y":79,"v":1},{"x":6,"y":79,"v":1},{"x":7,"y":79,"v":1},{"x":8,"y":79,"v":1},{"x":9,"y":79,"v":1},{"x":10,"y":79,"v":1},{"x":11,"y":79,"v":1},{"x":12,"y":79,"v":1},{"x":13,"y":79,"v":1},{"x":14,"y":79,"v":1},{"x":15,"y":79,"v":1},
{"x":0,"y":80,"v":2},{"x":1,"y":80,"v":2},{"x":2,"y":80,"v":2},{"x":3,"y":80,"v":2},{"x":4,"y":80,"v":2},{"x":5,"y":80,"v":2},{"x":6,"y":80,"v":1},{"x":7,"y":80,"v":1},{"x":8,"y":80,"v":1},{"x":9,"y":80,"v":1},{"x":10,"y":80,"v":1},{"x":11,"y":80,"v":1},{"x":12,"y":80,"v":1},{"x":13,"y":80,"v":1},{"x":14,"y":80,"v":1},{"x":15,"y":80,"v":1},
{"x":0,"y":81,"v":2},{"x":1,"y":81,"v":2},{"x":2,"y":81,"v":2},{"x":3,"y":81,"v":2},{"x":4,"y":81,"v":2},{"x":5,"y":81,"v":2},{"x":6,"y":81,"v":2},{"x":7,"y":81,"v":2},{"x":8,"y":81,"v":1},{"x":9,"y":81,"v":1},{"x":10,"y":81,"v":1},{"x":11,"y":81,"v":1},{"x":12,"y":81,"v":1},{"x":13,"y":81,"v":1},{"x":14,"y":81,"v":1},{"x":15,"y":81,"v":1},
{"x":0,"y":82,"v":2},{"x":1,"y":82,"v":2},{"x":2,"y":82,"v":2},{"x":3,"y":82,"v":2},{"x":4,"y":82,"v":2},{"x":5,"y":82,"v":2},{"x":6,"y":82,"v":2},{"x":7,"y":82,"v":2},{"x":8,"y":82,"v":2},{"x":9,"y":82,"v":1},{"x":10,"y":82,"v":1},{"x":11,"y":82,"v":1},{"x":12,"y":82,"v":1},{"x":13,"y":82,"v":1},{"x":14,"y":82,"v":1},{"x":15,"y":82,"v":1},
{"x":0,"y":83,"v":2},{"x":1,"y":83,"v":2},{"x":2,"y":83,"v":2},{"x":3,"y":83,"v":2},{"x":4,"y":83,"v":2},{"x":5,"y":83,"v":2},{"x":6,"y":83,"v":2},{"x":7,"y":83,"v":2},{"x":8,"y":83,"v":2},{"x":9,"y":83,"v":2},{"x":10,"y":83,"v":2},{"x":11,"y":83,"v":1},{"x":12,"y":83,"v":1},{"x":13,"y":83,"v":1},{"x":14,"y":83,"v":1},{"x":15,"y":83,"v":1},
{"x":0,"y":84,"v":2},{"x":1,"y":84,"v":2},{"x":2,"y":84,"v":2},{"x":3,"y":84,"v":2},{"x":4,"y":84,"v":2},{"x":5,"y":84,"v":2},{"x":6,"y":84,"v":2},{"x":7,"y":84,"v":2},{"x":8,"y":84,"v":2},{"x":9,"y":84,"v":2},{"x":10,"y":84,"v":2},{"x":11,"y":84,"v":2},{"x":12,"y":84,"v":1},{"x":13,"y":84,"v":1},{"x":14,"y":84,"v":1},{"x":15,"y":84,"v":1},
{"x":0,"y":85,"v":2},{"x":1,"y":85,"v":2},{"x":2,"y":85,"v":2},{"x":3,"y":85,"v":2},{"x":4,"y":85,"v":2},{"x":5,"y":85,"v":2},{"x":6,"y":85,"v":2},{"x":7,"y":85,"v":2},{"x":8,"y":85,"v":2},{"x":9,"y":85,"v":2},{"x":10,"y":85,"v":2},{"x":11,"y":85,"v":2},{"x":12,"y":85,"v":2},{"x":13,"y":85,"v":2},{"x":14,"y":85,"v":1},{"x":15,"y":85,"v":1},
{"x":0,"y":86,"v":2},{"x":1,"y":86,"v":2},{"x":2,"y":86,"v":2},{"x":3,"y":86,"v":2},{"x":4,"y":86,"v":2},{"x":5,"y":86,"v":2},{"x":6,"y":86,"v":2},{"x":7,"y":86,"v":2},{"x":8,"y":86,"v":2},{"x":9,"y":86,"v":2},{"x":10,"y":86,"v":2},{"x":11,"y":86,"v":2},{"x":12,"y":86,"v":2},{"x":13,"y":86,"v":2},{"x":14,"y":86,"v":2},{"x":15,"y":86,"v":1},
{"x":0,"y":87,"v":2},{"x":1,"y":87,"v":2},{"x":2,"y":87,"v":2},{"x":3,"y":87,"v":2},{"x":4,"y":87,"v":2},{"x":5,"y":87,"v":2},{"x":6,"y":87,"v":2},{"x":7,"y":87,"v":2},{"x":8,"y":87,"v":2},{"x":9,"y":87,"v":2},{"x":10,"y":87,"v":2},{"x":11,"y":87,"v":2},{"x":12,"y":87,"v":2},{"x":13,"y":87,"v":2},{"x":14,"y":87,"v":2},{"x":15,"y":87,"v":2},
{"x":0,"y":88,"v":0},{"x":1,"y":88,"v":2},{"x":2,"y":88,"v":2},{"x":3,"y":88,"v":2},{"x":4,"y":88,"v":2},{"x":5,"y":88,"v":2},{"x":6,"y":88,"v":2},{"x":7,"y":88,"v":2},{"x":8,"y":88,"v":2},{"x":9,"y":88,"v":2},{"x":10,"y":88,"v":2},{"x":11,"y":88,"v":2},{"x":12,"y":88,"v":2},{"x":13,"y":88,"v":2},{"x":14,"y":88,"v":2},{"x":15,"y":88,"v":2},
{"x":0,"y":89,"v":0},{"x":1,"y":89,"v":2},{"x":2,"y":89,"v":2},{"x":3,"y":89,"v":2},{"x":4,"y":89,"v":2},{"x":5,"y":89,"v":2},{"x":6,"y":89,"v":2},{"x":7,"y":89,"v":2},{"x":8,"y":89,"v":2},{"x":9,"y":89,"v":2},{"x":10,"y":89,"v":2},{"x":11,"y":89,"v":2},{"x":12,"y":89,"v":2},{"x":13,"y":89,"v":2},{"x":14,"y":89,"v":2},{"x":15,"y":89,"v":2},
{"x":0,"y":90,"v":0},{"x":1,"y":90,"v":0},{"x":2,"y":90,"v":2},{"x":3,"y":90,"v":2},{"x":4,"y":90,"v":2},{"x":5,"y":90,"v":2},{"x":6,"y":90,"v":2},{"x":7,"y":90,"v":2},{"x":8,"y":90,"v":2},{"x":9,"y":90,"v":2},{"x":10,"y":90,"v":2},{"x":11,"y":90,"v":2},{"x":12,"y":90,"v":2},{"x":13,"y":90,"v":2},{"x":14,"y":90,"v":2},{"x":15,"y":90,"v":2},
{"x":0,"y":91,"v":0},{"x":1,"y":91,"v":0},{"x":2,"y":91,"v":0},{"x":3,"y":91,"v":2},{"x":4,"y":91,"v":2},{"x":5,"y":91,"v":2},{"x":6,"y":91,"v":2},{"x":7,"y":91,"v":2},{"x":8,"y":91,"v":2},{"x":9,"y":91,"v":2},{"x":10,"y":91,"v":2},{"x":11,"y":91,"v":2},{"x":12,"y":91,"v":2},{"x":13,"y":91,"v":2},{"x":14,"y":91,"v":2},{"x":15,"y":91,"v":2},
{"x":0,"y":92,"v":0},{"x":1,"y":92,"v":0},{"x":2,"y":92,"v":0},{"x":3,"y":92,"v":0},{"x":4,"y":92,"v":2},{"x":5,"y":92,"v":2},{"x":6,"y":92,"v":2},{"x":7,"y":92,"v":2},{"x":8,"y":92,"v":2},{"x":9,"y":92,"v":2},{"x":10,"y":92,"v":2},{"x":11,"y":92,"v":2},{"x":12,"y":92,"v":2},{"x":13,"y":92,"v":2},{"x":14,"y":92,"v":2},{"x":15,"y":92,"v":2},
{"x":0,"y":93,"v":0},{"x":1,"y":93,"v":0},{"x":2,"y":93,"v":0},{"x":3,"y":93,"v":0},{"x":4,"y":93,"v":2},{"x":5,"y":93,"v":2},{"x":6,"y":93,"v":2},{"x":7,"y":93,"v":2},{"x":8,"y":93,"v":2},{"x":9,"y":93,"v":2},{"x":10,"y":93,"v":2},{"x":11,"y":93,"v":2},{"x":12,"y":93,"v":2},{"x":13,"y":93,"v":2},{"x":14,"y":93,"v":2},{"x":15,"y":93,"v":2},
{"x":0,"y":94,"v":0},{"x":1,"y":94,"v":0},{"x":2,"y":94,"v":0},{"x":3,"y":94,"v":0},{"x":4,"y":94,"v":0},{"x":5,"y":94,"v":2},{"x":6,"y":94,"v":2},{"x":7,"y":94,"v":2},{"x":8,"y":94,"v":2},{"x":9,"y":94,"v":2},{"x":10,"y":94,"v":2},{"x":11,"y":94,"v":2},{"x":12,"y":94,"v":2},{"x":13,"y":94,"v":2},{"x":14,"y":94,"v":2},{"x":15,"y":94,"v":2},
{"x":0,"y":95,"v":0},{"x":1,"y":95,"v":0},{"x":2,"y":95,"v":0},{"x":3,"y":95,"v":0},{"x":4,"y":95,"v":0},{"x":5,"y":95,"v":0},{"x":6,"y":95,"v":2},{"x":7,"y":95,"v":2},{"x":8,"y":95,"v":2},{"x":9,"y":95,"v":2},{"x":10,"y":95,"v":2},{"x":11,"y":95,"v":2},{"x":12,"y":95,"v":2},{"x":13,"y":95,"v":2},{"x":14,"y":95,"v":2},{"x":15,"y":95,"v":2},
{"x":0,"y":96,"v":0},{"x":1,"y":96,"v":0},{"x":2,"y":96,"v":0},{"x":3,"y":96,"v":0},{"x":4,"y":96,"v":0},{"x":5,"y":96,"v":0},{"x":6,"y":96,"v":0},{"x":7,"y":96,"v":2},{"x":8,"y":96,"v":2},{"x":9,"y":96,"v":2},{"x":10,"y":96,"v":2},{"x":11,"y":96,"v":2},{"x":12,"y":96,"v":2},{"x":13,"y":96,"v":2},{"x":14,"y":96,"v":2},{"x":15,"y":96,"v":2},
{"x":0,"y":97,"v":0},{"x":1,"y":97,"v":0},{"x":2,"y":97,"v":0},{"x":3,"y":97,"v":0},{"x":4,"y":97,"v":0},{"x":5,"y":97,"v":0},{"x":6,"y":97,"v":0},{"x":7,"y":97,"v":2},{"x":8,"y":97,"v":2},{"x":9,"y":97,"v":2},{"x":10,"y":97,"v":2},{"x":11,"y":97,"v":2},{"x":12,"y":97,"v":2},{"x":13,"y":97,"v":2},{"x":14,"y":97,"v":2},{"x":15,"y":97,"v":2},
{"x":0,"y":98,"v":0},{"x":1,"y":98,"v":0},{"x":2,"y":98,"v":0},{"x":3,"y":98,"v":0},{"x":4,"y":98,"v":0},{"x":5,"y":98,"v":0},{"x":6,"y":98,"v":0},{"x":7,"y":98,"v":0},{"x":8,"y":98,"v":2},{"x":9,"y":98,"v":2},{"x":10,"y":98,"v":2},{"x":11,"y":98,"v":2},{"x":12,"y":98,"v":2},{"x":13,"y":98,"v":2},{"x":14,"y":98,"v":2},{"x":15,"y":98,"v":2},
{"x":0,"y":99,"v":0},{"x":1,"y":99,"v":0},{"x":2,"y":99,"v":0},{"x":3,"y":99,"v":0},{"x":4,"y":99,"v":0},{"x":5,"y":99,"v":0},{"x":6,"y":99,"v":0},{"x":7,"y":99,"v":0},{"x":8,"y":99,"v":0},{"x":9,"y":99,"v":2},{"x":10,"y":99,"v":2},{"x":11,"y":99,"v":2},{"x":12,"y":99,"v":2},{"x":13,"y":99,"v":2},{"x":14,"y":99,"v":2},{"x":15,"y":99,"v":2},
{"x":0,"y":100,"v":0},{"x":1,"y":100,"v":0},{"x":2,"y":100,"v":0},{"x":3,"y":100,"v":0},{"x":4,"y":100,"v":0},{"x":5,"y":100,"v":0},{"x":6,"y":100,"v":0},{"x":7,"y":100,"v":0},{"x":8,"y":100,"v":0},{"x":9,"y":100,"v":0},{"x":10,"y":100,"v":2},{"x":11,"y":100,"v":2},{"x":12,"y":100,"v":2},{"x":13,"y":100,"v":2},{"x":14,"y":100,"v":2},{"x":15,"y":100,"v":2},
{"x":0,"y":101,"v":0},{"x":1,"y":101,"v":0},{"x":2,"y":101,"v":0},{"x":3,"y":101,"v":0},{"x":4,"y":101,"v":0},{"x":5,"y":101,"v":0},{"x":6,"y":101,"v":0},{"x":7,"y":101,"v":0},{"x":8,"y":101,"v":0},{"x":9,"y":101,"v":0},{"x":10,"y":101,"v":2},{"x":11,"y":101,"v":2},{"x":12,"y":101,"v":2},{"x":13,"y":101,"v":2},{"x":14,"y":101,"v":2},{"x":15,"y":101,"v":2},
{"x":0,"y":102,"v":0},{"x":1,"y":102,"v":0},{"x":2,"y":102,"v":0},{"x":3,"y":102,"v":0},{"x":4,"y":102,"v":0},{"x":5,"y":102,"v":0},{"x":6,"y":102,"v":0},{"x":7,"y":102,"v":0},{"x":8,"y":102,"v":0},{"x":9,"y":102,"v":0},{"x":10,"y":102,"v":0},{"x":11,"y":102,"v":2},{"x":12,"y":102,"v":2},{"x":13,"y":102,"v":2},{"x":14,"y":102,"v":2},{"x":15,"y":102,"v":2},
{"x":0,"y":103,"v":0},{"x":1,"y":103,"v":0},{"x":2,"y":103,"v":0},{"x":3,"y":103,"v":0},{"x":4,"y":103,"v":0},{"x":5,"y":103,"v":0},{"x":6,"y":103,"v":0},{"x":7,"y":103,"v":0},{"x":8,"y":103,"v":0},{"x":9,"y":103,"v":0},{"x":10,"y":103,"v":0},{"x":11,"y":103,"v":0},{"x":12,"y":103,"v":2},{"x":13,"y":103,"v":2},{"x":14,"y":103,"v":2},{"x":15,"y":103,"v":2},
{"x":0,"y":104,"v":0},{"x":1,"y":104,"v":0},{"x":2,"y":104,"v":0},{"x":3,"y":104,"v":0},{"x":4,"y":104,"v":0},{"x":5,"y":104,"v":0},{"x":6,"y":104,"v":0},{"x":7,"y":104,"v":0},{"x":8,"y":104,"v":0},{"x":9,"y":104,"v":0},{"x":10,"y":104,"v":0},{"x":11,"y":104,"v":0},{"x":12,"y":104,"v":0},{"x":13,"y":104,"v":2},{"x":14,"y":104,"v":2},{"x":15,"y":104,"v":2},
{"x":0,"y":105,"v":0},{"x":1,"y":105,"v":0},{"x":2,"y":105,"v":0},{"x":3,"y":105,"v":0},{"x":4,"y":105,"v":0},{"x":5,"y":105,"v":0},{"x":6,"y":105,"v":0},{"x":7,"y":105,"v":0},{"x":8,"y":105,"v":0},{"x":9,"y":105,"v":0},{"x":10,"y":105,"v":0},{"x":11,"y":105,"v":0},{"x":12,"y":105,"v":0},{"x":13,"y":105,"v":2},{"x":14,"y":105,"v":2},{"x":15,"y":105,"v":2},
{"x":0,"y":106,"v":0},{"x":1,"y":106,"v":0},{"x":2,"y":106,"v":0},{"x":3,"y":106,"v":0},{"x":4,"y":106,"v":0},{"x":5,"y":106,"v":0},{"x":6,"y":106,"v":0},{"x":7,"y":106,"v":0},{"x":8,"y":106,"v":0},{"x":9,"y":106,"v":0},{"x":10,"y":106,"v":0},{"x":11,"y":106,"v":0},{"x":12,"y":106,"v":0},{"x":13,"y":106,"v":0},{"x":14,"y":106,"v":2},{"x":15,"y":106,"v":2},
{"x":0,"y":107,"v":0},{"x":1,"y":107,"v":0},{"x":2,"y":107,"v":0},{"x":3,"y":107,"v":0},{"x":4,"y":107,"v":0},{"x":5,"y":107,"v":0},{"x":6,"y":107,"v":0},{"x":7,"y":107,"v":0},{"x":8,"y":107,"v":0},{"x":9,"y":107,"v":0},{"x":10,"y":107,"v":0},{"x":11,"y":107,"v":0},{"x":12,"y":107,"v":0},{"x":13,"y":107,"v":0},{"x":14,"y":107,"v":0},{"x":15,"y":107,"v":2},
{"x":0,"y":108,"v":0},{"x":1,"y":108,"v":0},{"x":2,"y":108,"v":0},{"x":3,"y":108,"v":0},{"x":4,"y":108,"v":0},{"x":5,"y":108,"v":0},{"x":6,"y":108,"v":0},{"x":7,"y":108,"v":0},{"x":8,"y":108,"v":0},{"x":9,"y":108,"v":0},{"x":10,"y":108,"v":0},{"x":11,"y":108,"v":0},{"x":12,"y":108,"v":0},{"x":13,"y":108,"v":0},{"x":14,"y":108,"v":0},{"x":15,"y":108,"v":0},
{"x":0,"y":109,"v":0},{"x":1,"y":109,"v":0},{"x":2,"y":109,"v":0},{"x":3,"y":109,"v":0},{"x":4,"y":109,"v":0},{"x":5,"y":109,"v":0},{"x":6,"y":109,"v":0},{"x":7,"y":109,"v":0},{"x":8,"y":109,"v":0},{"x":9,"y":109,"v":0},{"x":10,"y":109,"v":0},{"x":11,"y":109,"v":0},{"x":12,"y":109,"v":0},{"x":13,"y":109,"v":0},{"x":14,"y":109,"v":0},{"x":15,"y":109,"v":0},
{"x":0,"y":110,"v":0},{"x":1,"y":110,"v":0},{"x":2,"y":110,"v":0},{"x":3,"y":110,"v":0},{"x":4,"y":110,"v":0},{"x":5,"y":110,"v":0},{"x":6,"y":110,"v":0},{"x":7,"y":110,"v":0},{"x":8,"y":110,"v":0},{"x":9,"y":110,"v":0},{"x":10,"y":110,"v":0},{"x":11,"y":110,"v":0},{"x":12,"y":110,"v":0},{"x":13,"y":110,"v":0},{"x":14,"y":110,"v":0},{"x":15,"y":110,"v":0},
{"x":0,"y":111,"v":0},{"x":1,"y":111,"v":0},{"x":2,"y":111,"v":0},{"x":3,"y":111,"v":0},{"x":4,"y":111,"v":0},{"x":5,"y":111,"v":0},{"x":6,"y":111,"v":0},{"x":7,"y":111,"v":0},{"x":8,"y":111,"v":0},{"x":9,"y":111,"v":0},{"x":10,"y":111,"v":0},{"x":11,"y":111,"v":0},{"x":12,"y":111,"v":0},{"x":13,"y":111,"v":0},{"x":14,"y":111,"v":0},{"x":15,"y":111,"v":0},
{"x":0,"y":112,"v":0},{"x":1,"y":112,"v":0},{"x":2,"y":112,"v":0},{"x":3,"y":112,"v":0},{"x":4,"y":112,"v":0},{"x":5,"y":112,"v":0},{"x":6,"y":112,"v":0},{"x":7,"y":112,"v":0},{"x":8,"y":112,"v":0},{"x":9,"y":112,"v":0},{"x":10,"y":112,"v":0},{"x":11,"y":112,"v":0},{"x":12,"y":112,"v":0},{"x":13,"y":112,"v":0},{"x":14,"y":112,"v":0},{"x":15,"y":112,"v":0},
{"x":0,"y":113,"v":0},{"x":1,"y":113,"v":0},{"x":2,"y":113,"v":0},{"x":3,"y":113,"v":0},{"x":4,"y":113,"v":0},{"x":5,"y":113,"v":0},{"x":6,"y":113,"v":0},{"x":7,"y":113,"v":0},{"x":8,"y":113,"v":0},{"x":9,"y":113,"v":0},{"x":10,"y":113,"v":0},{"x":11,"y":113,"v":0},{"x":12,"y":113,"v":0},{"x":13,"y":113,"v":0},{"x":14,"y":113,"v":0},{"x":15,"y":113,"v":0},
{"x":0,"y":114,"v":0},{"x":1,"y":114,"v":0},{"x":2,"y":114,"v":0},{"x":3,"y":114,"v":0},{"x":4,"y":114,"v":0},{"x":5,"y":114,"v":0},{"x":6,"y":114,"v":0},{"x":7,"y":114,"v":0},{"x":8,"y":114,"v":0},{"x":9,"y":114,"v":0},{"x":10,"y":114,"v":0},{"x":11,"y":114,"v":0},{"x":12,"y":114,"v":0},{"x":13,"y":114,"v":0},{"x":14,"y":114,"v":0},{"x":15,"y":114,"v":0},
{"x":0,"y":115,"v":0},{"x":1,"y":115,"v":0},{"x":2,"y":115,"v":0},{"x":3,"y":115,"v":0},{"x":4,"y":115,"v":0},{"x":5,"y":115,"v":0},{"x":6,"y":115,"v":0},{"x":7,"y":115,"v":0},{"x":8,"y":115,"v":0},{"x":9,"y":115,"v":0},{"x":10,"y":115,"v":0},{"x":11,"y":115,"v":0},{"x":12,"y":115,"v":0},{"x":13,"y":115,"v":0},{"x":14,"y":115,"v":0},{"x":15,"y":115,"v":0},
{"x":0,"y":116,"v":0},{"x":1,"y":116,"v":0},{"x":2,"y":116,"v":0},{"x":3,"y":116,"v":0},{"x":4,"y":116,"v":0},{"x":5,"y":116,"v":0},{"x":6,"y":116,"v":0},{"x":7,"y":116,"v":0},{"x":8,"y":116,"v":0},{"x":9,"y":116,"v":0},{"x":10,"y":116,"v":0},{"x":11,"y":116,"v":0},{"x":12,"y":116,"v":0},{"x":13,"y":116,"v":0},{"x":14,"y":116,"v":0},{"x":15,"y":116,"v":0},
{"x":0,"y":117,"v":0},{"x":1,"y":117,"v":0},{"x":2,"y":117,"v":0},{"x":3,"y":117,"v":0},{"x":4,"y":117,"v":0},{"x":5,"y":117,"v":0},{"x":6,"y":117,"v":0},{"x":7,"y":117,"v":0},{"x":8,"y":117,"v":0},{"x":9,"y":117,"v":0},{"x":10,"y":117,"v":0},{"x":11,"y":117,"v":0},{"x":12,"y":117,"v":0},{"x":13,"y":117,"v":0},{"x":14,"y":117,"v":0},{"x":15,"y":117,"v":0},
{"x":0,"y":118,"v":0},{"x":1,"y":118,"v":0},{"x":2,"y":118,"v":0},{"x":3,"y":118,"v":0},{"x":4,"y":118,"v":0},{"x":5,"y":118,"v":0},{"x":6,"y":118,"v":0},{"x":7,"y":118,"v":0},{"x":8,"y":118,"v":0},{"x":9,"y":118,"v":0},{"x":10,"y":118,"v":0},{"x":11,"y":118,"v":0},{"x":12,"y":118,"v":0},{"x":13,"y":118,"v":0},{"x":14,"y":118,"v":0},{"x":15,"y":118,"v":0},
{"x":0,"y":119,"v":0},{"x":1,"y":119,"v":0},{"x":2,"y":119,"v":0},{"x":3,"y":119,"v":0},{"x":4,"y":119,"v":0},{"x":5,"y":119,"v":0},{"x":6,"y":119,"v":0},{"x":7,"y":119,"v":0},{"x":8,"y":119,"v":0},{"x":9,"y":119,"v":0},{"x":10,"y":119,"v":0},{"x":11,"y":119,"v":0},{"x":12,"y":119,"v":0},{"x":13,"y":119,"v":0},{"x":14,"y":119,"v":0},{"x":15,"y":119,"v":0},
{"x":0,"y":120,"v":0},{"x":1,"y":120,"v":0},{"x":2,"y":120,"v":0},{"x":3,"y":120,"v":0},{"x":4,"y":120,"v":0},{"x":5,"y":120,"v":0},{"x":6,"y":120,"v":0},{"x":7,"y":120,"v":0},{"x":8,"y":120,"v":0},{"x":9,"y":120,"v":0},{"x":10,"y":120,"v":0},{"x":11,"y":120,"v":0},{"x":12,"y":120,"v":0},{"x":13,"y":120,"v":0},{"x":14,"y":120,"v":0},{"x":15,"y":120,"v":0},
{"x":0,"y":121,"v":0},{"x":1,"y":121,"v":0},{"x":2,"y":121,"v":0},{"x":3,"y":121,"v":0},{"x":4,"y":121,"v":0},{"x":5,"y":121,"v":0},{"x":6,"y":121,"v":0},{"x":7,"y":121,"v":0},{"x":8,"y":121,"v":0},{"x":9,"y":121,"v":0},{"x":10,"y":121,"v":0},{"x":11,"y":121,"v":0},{"x":12,"y":121,"v":0},{"x":13,"y":121,"v":0},{"x":14,"y":121,"v":0},{"x":15,"y":121,"v":0},
{"x":0,"y":122,"v":0},{"x":1,"y":122,"v":0},{"x":2,"y":122,"v":0},{"x":3,"y":122,"v":0},{"x":4,"y":122,"v":0},{"x":5,"y":122,"v":0},{"x":6,"y":122,"v":0},{"x":7,"y":122,"v":0},{"x":8,"y":122,"v":0},{"x":9,"y":122,"v":0},{"x":10,"y":122,"v":0},{"x":11,"y":122,"v":0},{"x":12,"y":122,"v":0},{"x":13,"y":122,"v":0},{"x":14,"y":122,"v":0},{"x":15,"y":122,"v":0},
{"x":0,"y":123,"v":0},{"x":1,"y":123,"v":0},{"x":2,"y":123,"v":0},{"x":3,"y":123,"v":0},{"x":4,"y":123,"v":0},{"x":5,"y":123,"v":0},{"x":6,"y":123,"v":0},{"x":7,"y":123,"v":0},{"x":8,"y":123,"v":0},{"x":9,"y":123,"v":0},{"x":10,"y":123,"v":0},{"x":11,"y":123,"v":0},{"x":12,"y":123,"v":0},{"x":13,"y":123,"v":0},{"x":14,"y":123,"v":0},{"x":15,"y":123,"v":0},
{"x":0,"y":124,"v":0},{"x":1,"y":124,"v":0},{"x":2,"y":124,"v":0},{"x":3,"y":124,"v":0},{"x":4,"y":124,"v":0},{"x":5,"y":124,"v":0},{"x":6,"y":124,"v":0},{"x":7,"y":124,"v":0},{"x":8,"y":124,"v":0},{"x":9,"y":124,"v":0},{"x":10,"y":124,"v":0},{"x":11,"y":124,"v":0},{"x":12,"y":124,"v":0},{"x":13,"y":124,"v":0},{"x":14,"y":124,"v":0},{"x":15,"y":124,"v":0},
{"x":0,"y":125,"v":0},{"x":1,"y":125,"v":0},{"x":2,"y":125,"v":0},{"x":3,"y":125,"v":0},{"x":4,"y":125,"v":0},{"x":5,"y":125,"v":0},{"x":6,"y":125,"v":0},{"x":7,"y":125,"v":0},{"x":8,"y":125,"v":0},{"x":9,"y":125,"v":0},{"x":10,"y":125,"v":0},{"x":11,"y":125,"v":0},{"x":12,"y":125,"v":0},{"x":13,"y":125,"v":0},{"x":14,"y":125,"v":0},{"x":15,"y":125,"v":0},
{"x":0,"y":126,"v":0},{"x":1,"y":126,"v":0},{"x":2,"y":126,"v":0},{"x":3,"y":126,"v":0},{"x":4,"y":126,"v":0},{"x":5,"y":126,"v":0},{"x":6,"y":126,"v":0},{"x":7,"y":126,"v":0},{"x":8,"y":126,"v":0},{"x":9,"y":126,"v":0},{"x":10,"y":126,"v":0},{"x":11,"y":126,"v":0},{"x":12,"y":126,"v":0},{"x":13,"y":126,"v":0},{"x":14,"y":126,"v":0},{"x":15,"y":126,"v":0},
{"x":0,"y":127,"v":0},{"x":1,"y":127,"v":0},{"x":2,"y":127,"v":0},{"x":3,"y":127,"v":0},{"x":4,"y":127,"v":0},{"x":5,"y":127,"v":0},{"x":6,"y":127,"v":0},{"x":7,"y":127,"v":0},{"x":8,"y":127,"v":0},{"x":9,"y":127,"v":0},{"x":10,"y":127,"v":0},{"x":11,"y":127,"v":0},{"x":12,"y":127,"v":0},{"x":13,"y":127,"v":0},{"x":14,"y":127,"v":0},{"x":15,"y":127,"v":0}
],
"red": [{"x":13,"y":24},{"x":10,"y":28},{"x":7,"y":32},{"x":4,"y":36},{"x":1,"y":40}],
"rows": [
{"y":0,"t":".111"},{"y":1,"t":".110"},{"y":2,"t":".101"},{"y":3,"t":".100"},{"y":4,"t":".011"},{"y":5,"t":".010"},{"y":6,"t":".001"},{"y":7,"t":".000"},
{"y":8,"t":".111"},{"y":9,"t":".110"},{"y":10,"t":".101"},{"y":11,"t":".100"},{"y":12,"t":".011"},{"y":13,"t":".010"},{"y":14,"t":".001"},{"y":15,"t":".000"},
{"y":16,"t":".111"},{"y":17,"t":".110"},{"y":18,"t":".101"},{"y":19,"t":".100"},{"y":20,"t":".011"},{"y":21,"t":".010"},{"y":22,"t":".001"},{"y":23,"t":".000"},
{"y":24,"t":".111"},{"y":25,"t":".110"},{"y":26,"t":".101"},{"y":27,"t":".100"},{"y":28,"t":".011"},{"y":29,"t":".010"},{"y":30,"t":".001"},{"y":31,"t":".000"},
{"y":32,"t":".111"},{"y":33,"t":".110"},{"y":34,"t":".101"},{"y":35,"t":".100"},{"y":36,"t":".011"},{"y":37,"t":".010"},{"y":38,"t":".001"},{"y":39,"t":".000"},
{"y":40,"t":".111"},{"y":41,"t":".110"},{"y":42,"t":".101"},{"y":43,"t":".100"},{"y":44,"t":".011"},{"y":45,"t":".010"},{"y":46,"t":".001"},{"y":47,"t":".000"},
{"y":48,"t":".111"},{"y":49,"t":".110"},{"y":50,"t":".101"},{"y":51,"t":".100"},{"y":52,"t":".011"},{"y":53,"t":".010"},{"y":54,"t":".001"},{"y":55,"t":".000"},
{"y":56,"t":".111"},{"y":57,"t":".110"},{"y":58,"t":".101"},{"y":59,"t":".100"},{"y":60,"t":".011"},{"y":61,"t":".010"},{"y":62,"t":".001"},{"y":63,"t":".000"},
{"y":64,"t":".111"},{"y":65,"t":".110"},{"y":66,"t":".101"},{"y":67,"t":".100"},{"y":68,"t":".011"},{"y":69,"t":".010"},{"y":70,"t":".001"},{"y":71,"t":".000"},
{"y":72,"t":".111"},{"y":73,"t":".110"},{"y":74,"t":".101"},{"y":75,"t":".100"},{"y":76,"t":".011"},{"y":77,"t":".010"},{"y":78,"t":".001"},{"y":79,"t":".000"},
{"y":80,"t":".111"},{"y":81,"t":".110"},{"y":82,"t":".101"},{"y":83,"t":".100"},{"y":84,"t":".011"},{"y":85,"t":".010"},{"y":86,"t":".001"},{"y":87,"t":".000"},
{"y":88,"t":".111"},{"y":89,"t":".110"},{"y":90,"t":".101"},{"y":91,"t":".100"},{"y":92,"t":".011"},{"y":93,"t":".010"},{"y":94,"t":".001"},{"y":95,"t":".000"},
{"y":96,"t":".111"},{"y":97,"t":".110"},{"y":98,"t":".101"},{"y":99,"t":".100"},{"y":100,"t":".011"},{"y":101,"t":".010"},{"y":102,"t":".001"},{"y":103,"t":".000"},
{"y":104,"t":".111"},{"y":105,"t":".110"},{"y":106,"t":".101"},{"y":107,"t":".100"},{"y":108,"t":".011"},{"y":109,"t":".010"},{"y":110,"t":".001"},{"y":111,"t":".000"},
{"y":112,"t":".111"},{"y":113,"t":".110"},{"y":114,"t":".101"},{"y":115,"t":".100"},{"y":116,"t":".011"},{"y":117,"t":".010"},{"y":118,"t":".001"},{"y":119,"t":".000"},
{"y":120,"t":".111"},{"y":121,"t":".110"},{"y":122,"t":".101"},{"y":123,"t":".100"},{"y":124,"t":".011"},{"y":125,"t":".010"},{"y":126,"t":".001"},{"y":127,"t":".000"}
],
"cols": [
{"x":0,"t":"1.0000"},{"x":1,"t":"1.0001"},{"x":2,"t":"1.0010"},{"x":3,"t":"1.0011"},{"x":4,"t":"1.0100"},{"x":5,"t":"1.0101"},{"x":6,"t":"1.0110"},{"x":7,"t":"1.0111"},
{"x":8,"t":"1.1000"},{"x":9,"t":"1.1001"},{"x":10,"t":"1.1010"},{"x":11,"t":"1.1011"},{"x":12,"t":"1.1100"},{"x":13,"t":"1.1101"},{"x":14,"t":"1.1110"},{"x":15,"t":"1.1111"}
],
"groups": [
{"g":"0111","n":"7","m":3,"b":7},{"g":"0110","n":"6","m":11,"b":15},{"g":"0101","n":"5","m":19,"b":23},{"g":"0100","n":"4","m":27,"b":31},
{"g":"0011","n":"3","m":35,"b":39},{"g":"0010","n":"2","m":43,"b":47},{"g":"0001","n":"1","m":51,"b":55},{"g":"0000","n":"0","m":59,"b":63},
{"g":"1111","n":"-1","m":67,"b":71},{"g":"1110","n":"-2","m":75,"b":79},{"g":"1101","n":"-3","m":83,"b":87},{"g":"1100","n":"-4","m":91,"b":95},
{"g":"1011","n":"-5","m":99,"b":103},{"g":"1010","n":"-6","m":107,"b":111},{"g":"1001","n":"-7","m":115,"b":119},{"g":"1000","n":"-8","m":123,"b":127}
],
"unused": [{"x":8,"y":15,"t":"unused (0)"},{"x":8,"y":111,"t":"unused (0)"}],
"signs": [{"x":8,"y":37,"t":"+2","k":2},{"x":8,"y":51,"t":"+1","k":1},{"x":8,"y":63,"t":"0","k":0},{"x":8,"y":75,"t":"-1","k":1},{"x":8,"y":89,"t":"-2","k":2}],
"ends": [{"x":0,"t":"1"},{"x":8,"t":"1.5"},{"x":15,"t":"2"}]
},
"layer": [
{
"data": {"name": "cells"},
"mark": {"type": "rect", "stroke": "#d4d4d4", "strokeWidth": 1},
"encoding": {
"x": {"field": "x", "type": "ordinal", "scale": {"type": "band", "domain": [-2,-1,0,1,2,3,4,5,6,7,8,9,10,11,12,13,14,15], "paddingInner": 0, "paddingOuter": 0}, "axis": null},
"y": {"field": "y", "type": "ordinal", "scale": {"type": "band", "paddingInner": 0, "paddingOuter": 0}, "axis": null},
"fill": {"field": "v", "type": "nominal", "scale": {"domain": [0,1,2], "range": ["#ffffff", "#d3eefa", "#fffbcf"]}, "legend": null}
}
},
{
"data": {"name": "red"},
"mark": {"type": "rect", "fill": "#f24a45", "stroke": "#d4d4d4", "strokeWidth": 1},
"encoding": {
"x": {"field": "x", "type": "ordinal", "axis": null},
"y": {"field": "y", "type": "ordinal", "axis": null}
}
},
{
"data": {"name": "cells"},
"mark": {"type": "text", "font": "DejaVu Sans Mono", "fontSize": 10, "fill": "#333333", "align": "center", "baseline": "middle"},
"encoding": {
"x": {"field": "x", "type": "ordinal", "axis": null},
"y": {"field": "y", "type": "ordinal", "axis": null},
"text": {"field": "v", "type": "nominal"}
}
},
{
"data": {"name": "rows"},
"mark": {"type": "text", "font": "DejaVu Sans Mono", "fontSize": 10, "fill": "#333333", "align": "right", "baseline": "middle"},
"encoding": {
"x": {"datum": -1, "type": "ordinal", "bandPosition": 0.66, "axis": null},
"y": {"field": "y", "type": "ordinal", "axis": null},
"text": {"field": "t", "type": "nominal"}
}
},
{
"data": {"name": "cols"},
"mark": {"type": "text", "font": "DejaVu Sans Mono", "fontSize": 9.5, "fill": "#444444", "align": "center", "baseline": "middle", "dy": 11},
"encoding": {
"x": {"field": "x", "type": "ordinal", "bandPosition": 0.4, "axis": null},
"y": {"datum": 127, "type": "ordinal", "bandPosition": 1, "axis": null},
"text": {"field": "t", "type": "nominal"}
}
},
{
"data": {"name": "groups"},
"mark": {"type": "rule", "stroke": "#8c8c8c", "strokeWidth": 2.5},
"encoding": {
"x": {"datum": -2, "type": "ordinal", "bandPosition": 0.72, "axis": null},
"x2": {"datum": 15, "bandPosition": 1},
"y": {"field": "b", "type": "ordinal", "bandPosition": 1, "axis": null}
}
},
{
"data": {"name": "groups"},
"transform": [{"filter": "datum.g == '0111'"}],
"mark": {"type": "rule", "stroke": "#8c8c8c", "strokeWidth": 2.5},
"encoding": {
"x": {"datum": -2, "type": "ordinal", "bandPosition": 0.72, "axis": null},
"x2": {"datum": 15, "bandPosition": 1},
"y": {"datum": 0, "type": "ordinal", "bandPosition": 0, "axis": null}
}
},
{
"data": {"name": "groups"},
"mark": {"type": "text", "font": "DejaVu Sans Mono", "fontWeight": "bold", "fontSize": 15, "fill": "#111", "align": "center", "baseline": "middle"},
"encoding": {
"x": {"datum": -2, "type": "ordinal", "bandPosition": 0.72, "axis": null},
"y": {"field": "m", "type": "ordinal", "bandPosition": 1, "axis": null},
"text": {"field": "g", "type": "nominal"}
}
},
{
"data": {"name": "groups"},
"mark": {"type": "text", "font": "Liberation Sans", "fontWeight": "bold", "fontSize": 48, "fill": "#000", "align": "left", "baseline": "alphabetic", "dy": -2},
"encoding": {
"x": {"datum": -2, "type": "ordinal", "bandPosition": 0.24, "axis": null},
"y": {"field": "b", "type": "ordinal", "bandPosition": 1, "axis": null},
"text": {"field": "n", "type": "nominal"}
}
},
{
"data": {"name": "unused"},
"mark": {"type": "text", "font": "Liberation Sans", "fontSize": 43, "fill": "#ffffff", "stroke": "#ffffff", "strokeWidth": 14, "strokeJoin": "round", "align": "center", "baseline": "middle"},
"encoding": {
"x": {"field": "x", "type": "ordinal", "bandPosition": 0, "axis": null},
"y": {"field": "y", "type": "ordinal", "bandPosition": 1, "axis": null},
"text": {"field": "t", "type": "nominal"}
}
},
{
"data": {"name": "unused"},
"mark": {"type": "text", "font": "Liberation Sans", "fontSize": 43, "fill": "#000000", "align": "center", "baseline": "middle"},
"encoding": {
"x": {"field": "x", "type": "ordinal", "bandPosition": 0, "axis": null},
"y": {"field": "y", "type": "ordinal", "bandPosition": 1, "axis": null},
"text": {"field": "t", "type": "nominal"}
}
},
{
"data": {"name": "signs"},
"mark": {"type": "text", "font": "Liberation Sans", "fontWeight": "bold", "fontSize": 46, "strokeWidth": 14, "strokeJoin": "round", "align": "center", "baseline": "middle"},
"encoding": {
"x": {"field": "x", "type": "ordinal", "bandPosition": 0, "axis": null},
"y": {"field": "y", "type": "ordinal", "bandPosition": 1, "axis": null},
"text": {"field": "t", "type": "nominal"},
"fill": {"field": "k", "type": "nominal", "legend": null},
"stroke": {"field": "k", "type": "nominal", "scale": {"domain": [0,1,2], "range": ["#ffffff", "#d3eefa", "#fffbcf"]}, "legend": null}
}
},
{
"data": {"name": "signs"},
"mark": {"type": "text", "font": "Liberation Sans", "fontWeight": "bold", "fontSize": 46, "fill": "#000000", "align": "center", "baseline": "middle"},
"encoding": {
"x": {"field": "x", "type": "ordinal", "bandPosition": 0, "axis": null},
"y": {"field": "y", "type": "ordinal", "bandPosition": 1, "axis": null},
"text": {"field": "t", "type": "nominal"}
}
},
{
"data": {"name": "ends"},
"transform": [{"filter": "datum.x < 15"}],
"mark": {"type": "text", "font": "Liberation Sans", "fontSize": 48, "fill": "#000000", "align": "center", "baseline": "alphabetic", "dy": 52},
"encoding": {
"x": {"field": "x", "type": "ordinal", "bandPosition": 0, "axis": null},
"y": {"datum": 127, "type": "ordinal", "bandPosition": 1, "axis": null},
"text": {"field": "t", "type": "nominal"}
}
},
{
"data": {"name": "ends"},
"transform": [{"filter": "datum.x == 15"}],
"mark": {"type": "text", "font": "Liberation Sans", "fontSize": 48, "fill": "#000000", "align": "center", "baseline": "alphabetic", "dy": 52},
"encoding": {
"x": {"field": "x", "type": "ordinal", "bandPosition": 1, "axis": null},
"y": {"datum": 127, "type": "ordinal", "bandPosition": 1, "axis": null},
"text": {"field": "t", "type": "nominal"}
}
}
]
}
